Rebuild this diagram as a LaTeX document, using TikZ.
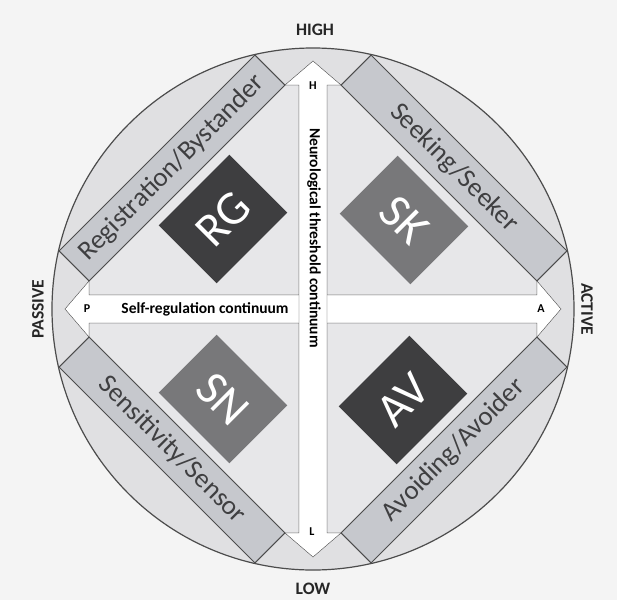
\documentclass[tikz,border=0pt]{standalone}
\usepackage{fontspec}
\setmainfont{Carlito}

\definecolor{paper}{HTML}{F4F4F4}
\definecolor{disc}{HTML}{E0E0E2}
\definecolor{quad}{HTML}{E7E7E9}
\definecolor{bandgrey}{HTML}{C6C8CD}
\definecolor{edge}{HTML}{4C4C4C}
\definecolor{darktile}{HTML}{3E3E40}
\definecolor{midtile}{HTML}{78787A}
\definecolor{bandtext}{HTML}{3F3F41}

\begin{document}
\begin{tikzpicture}[x=1pt,y=1pt,
    band/.style={draw=edge, fill=bandgrey, line width=1pt, minimum width=277pt,
      minimum height=42.4pt, inner sep=0pt, text=bandtext,
      font=\fontsize{27}{27}\selectfont},
    tile/.style={minimum width=100pt, minimum height=82pt, inner sep=0pt,
      text=white, font=\fontsize{48}{48}\selectfont},
    pole/.style={font=\bfseries\fontsize{17.5}{18}\selectfont, text=black!85},
    tip/.style={font=\bfseries\fontsize{12}{12}\selectfont},
    axislabel/.style={font=\bfseries\fontsize{15.5}{16}\selectfont}]
    \useasboundingbox[fill=paper] (-313,-291) rectangle (304,309);

    \draw[edge, fill=disc, line width=1.2pt] (0,0) circle (261pt);

    % quadrants
    \draw[edge, fill=quad] (-14,14) -- (-14,224) -- (-28,224) -- (-224,28) -- (-224,14) -- cycle;
    \draw[edge, fill=quad] (14,14) -- (14,224) -- (28,224) -- (224,28) -- (224,14) -- cycle;
    \draw[edge, fill=quad] (-14,-14) -- (-14,-224) -- (-28,-224) -- (-224,-28) -- (-224,-14) -- cycle;
    \draw[edge, fill=quad] (14,-14) -- (14,-224) -- (28,-224) -- (224,-28) -- (224,-14) -- cycle;

    % the two continua
    \draw[edge, fill=white] (-248,0) -- (-224,28) -- (-224,14) -- (224,14) -- (224,28)
      -- (248,0) -- (224,-28) -- (224,-14) -- (-224,-14) -- (-224,-28) -- cycle;
    \draw[edge, fill=white] (0,248) -- (28,224) -- (14,224) -- (14,-224) -- (28,-224)
      -- (0,-248) -- (-28,-224) -- (-14,-224) -- (-14,224) -- (-28,224) -- cycle;

    \node[axislabel] (self) at (-108,0) {Self-regulation continuum};
    \node[axislabel, rotate=-90] (neuro) at (1,71) {Neurological threshold continuum};

    \node[tip] (h) at (0,223) {H};
    \node[tip] (l) at (-1,-223) {L};
    \node[tip] (p) at (-226,0) {P};
    \node[tip] (a) at (228,0) {A};

    % patterns
    \node[band, rotate=45] (reg) at (-141,141) {Registration/Bystander};
    \node[band, rotate=-45] (seek) at (141,141) {Seeking/Seeker};
    \node[band, rotate=-45] (sens) at (-141,-141) {Sensitivity/Sensor};
    \node[band, rotate=45] (avoid) at (141,-141) {Avoiding/Avoider};

    \node[tile, fill=darktile, rotate=45] (rg) at (-90,90) {RG};
    \node[tile, fill=midtile, rotate=-45] (sk) at (91,89) {SK};
    \node[tile, fill=midtile, rotate=-45] (sn) at (-90,-90) {SN};
    \node[tile, fill=darktile, rotate=45] (av) at (90,-91) {AV};

    \node[pole] (high) at (2,279) {HIGH};
    \node[pole] (low) at (0,-280) {LOW};
    \node[pole, rotate=90] (passive) at (-275,0) {PASSIVE};
    \node[pole, rotate=-90] (active) at (274,0) {ACTIVE};
\end{tikzpicture}
\end{document}
